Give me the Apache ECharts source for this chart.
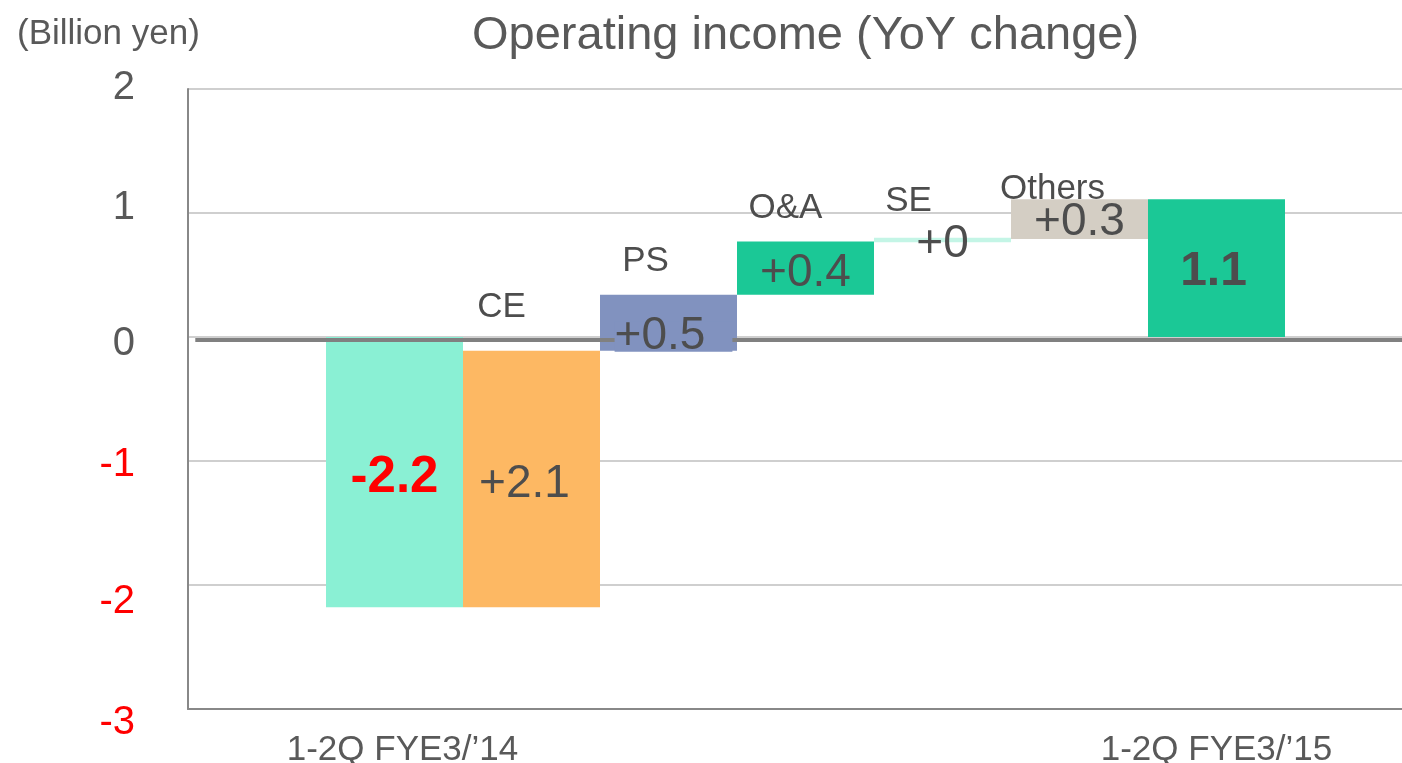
<!DOCTYPE html>
<html>
<head>
<meta charset="utf-8">
<title>Operating income (YoY change)</title>
<script src="https://cdn.jsdelivr.net/npm/echarts@6/dist/echarts.min.js"></script>
<style>
  html, body { margin: 0; padding: 0; background: #fff; }
  #chart { width: 1402px; height: 763px; }
</style>
</head>
<body>
<div id="chart"></div>
<script>
// 7 steps of the bridge, left to right
const categories = ['1-2Q FYE3/\u201914', 'CE', 'PS', 'O&A', 'SE', 'Others', '1-2Q FYE3/\u201915'];
// bottom and top of every floating bar (billion yen)
const barStart = [-2.18, -2.18, -0.11, 0.34, 0.765, 0.79, 0];
const barEnd = [0, -0.11, 0.34, 0.77, 0.80, 1.11, 1.11];
// text written inside the bars
const changeLabels = ['-2.2', '+2.1', '+0.5', '+0.4', '+0', '+0.3', '1.1'];
// y axis range
const yMin = -3;
const yMax = 2;

const FONT = '"Liberation Sans", Arial, Helvetica, sans-serif';
const TEXT_GRAY = '#595959';
const barColors = ['#8af0d4', '#fdb863', '#8192bf', '#1bc896', '#c4f5e6', '#d4cec4', '#1bc896'];
// small pixel tweaks for the text, like the hand placed boxes of the slide
const valueShift = [[0, 6], [-7, 5], [5, 14], [0, 5], [0, 4], [0, 3], [-3, 4]];
const nameShift = [null, [-30, -43], [-23, -33], [-20, -33], [-34, -36], [-27, -10], null];
// the PS label box is filled, so it hides the zero line
const boxedLabel = [false, false, true, false, false, false, false];
const valueFont = [
  { size: 51, weight: 'bold', color: '#ff0000' },
  { size: 46, weight: 'normal', color: '#4d4d4d' },
  { size: 46, weight: 'normal', color: '#4d4d4d' },
  { size: 46, weight: 'normal', color: '#4d4d4d' },
  { size: 46, weight: 'normal', color: '#4d4d4d' },
  { size: 46, weight: 'normal', color: '#4d4d4d' },
  { size: 48, weight: 'bold', color: '#4d4d4d' }
];
// y tick labels are not quite on their grid lines in the original
const tickShift = { '-3': 14, '-2': 17, '-1': 4, '0': 7, '1': -5, '2': -1 };

const tickRich = {};
Object.keys(tickShift).forEach(function (k) {
  const s = tickShift[k];
  tickRich['t' + (Number(k) + 3)] = {
    fontSize: 40,
    fontFamily: FONT,
    color: Number(k) < 0 ? '#ff0000' : TEXT_GRAY,
    padding: s >= 0 ? [2 * s, 0, 0, 0] : [0, 0, -2 * s, 0]
  };
});

const chart = echarts.init(document.getElementById('chart'));

const barData = categories.map(function (c, i) { return [i, barStart[i], barEnd[i]]; });

const barGeom = function (api) {
  const top = api.coord([api.value(0), api.value(2)]);
  const bottom = api.coord([api.value(0), api.value(1)]);
  const w = api.size([1, 0])[0];
  return { cx: top[0], top: top[1], bottom: bottom[1], w: w };
};

const renderBar = function (params, api) {
  const i = params.dataIndex;
  const g = barGeom(api);
  return {
    type: 'rect',
    shape: { x: g.cx - g.w / 2, y: g.top, width: g.w, height: g.bottom - g.top },
    style: { fill: barColors[i] }
  };
};

const renderLabel = function (params, api) {
  const i = params.dataIndex;
  const g = barGeom(api);
  const valueStyle = {
    text: changeLabels[i],
    fill: valueFont[i].color,
    fontSize: valueFont[i].size,
    fontWeight: valueFont[i].weight,
    fontFamily: FONT,
    align: 'center',
    verticalAlign: 'middle'
  };
  if (boxedLabel[i]) {
    valueStyle.backgroundColor = barColors[i];
    valueStyle.lineHeight = 30;
    valueStyle.padding = [0, 27, 0, 0];
  }
  const children = [{
    type: 'text',
    x: g.cx + valueShift[i][0],
    y: (g.top + g.bottom) / 2 + valueShift[i][1],
    style: valueStyle
  }];
  if (nameShift[i]) {
    children.push({
      type: 'text',
      x: g.cx + nameShift[i][0],
      y: g.top + nameShift[i][1],
      style: {
        text: categories[i],
        fill: '#4d4d4d',
        fontSize: 35,
        fontFamily: FONT,
        align: 'center',
        verticalAlign: 'middle'
      }
    });
  }
  return { type: 'group', children: children };
};

const option = {
  animation: false,
  title: [
    {
      text: 'Operating income (YoY change)',
      left: 467,
      top: 8,
      textStyle: { fontSize: 47, fontWeight: 'normal', color: TEXT_GRAY, fontFamily: FONT }
    },
    {
      text: '(Billion yen)',
      left: 12,
      top: 12,
      textStyle: { fontSize: 35, fontWeight: 'normal', color: TEXT_GRAY, fontFamily: FONT }
    }
  ],
  grid: [
    // frame, grid lines and y labels
    { left: 188, right: 0, top: 89, bottom: 54, outerBoundsMode: 'none' },
    // the bars sit in their own band, 137px per step
    { left: 326, right: 117, top: 89, bottom: 54, outerBoundsMode: 'none' }
  ],
  xAxis: [
    {
      gridIndex: 0,
      type: 'value',
      min: 0,
      max: 1,
      axisLine: { show: true, onZero: false, lineStyle: { color: '#888888', width: 2 } },
      axisTick: { show: false },
      axisLabel: { show: false },
      splitLine: { show: false }
    },
    {
      gridIndex: 1,
      type: 'category',
      data: categories,
      axisLine: { show: false, onZero: false },
      axisTick: { show: false },
      axisLabel: {
        interval: function (index) { return index === 0 || index === categories.length - 1; },
        formatter: function (value, index) {
          return index === 0 ? '{first|' + value + '}' : '{last|' + value + '}';
        },
        rich: {
          first: { fontSize: 35, fontFamily: FONT, color: TEXT_GRAY, padding: [0, 0, 0, 16] },
          last: { fontSize: 35, fontFamily: FONT, color: TEXT_GRAY }
        },
        margin: 24
      },
      splitLine: { show: false }
    }
  ],
  yAxis: [
    {
      gridIndex: 0,
      type: 'value',
      min: yMin,
      max: yMax,
      interval: 1,
      axisLine: { show: true, lineStyle: { color: '#888888', width: 2 } },
      axisTick: { show: false },
      axisLabel: {
        margin: 53,
        formatter: function (v) { return '{t' + (v + 3) + '|' + v + '}'; },
        rich: tickRich
      },
      splitLine: { show: true, lineStyle: { color: '#bfbfbf', width: 1.5 } }
    },
    {
      gridIndex: 1,
      type: 'value',
      min: yMin,
      max: yMax,
      show: false
    }
  ],
  series: [
    {
      type: 'custom',
      name: 'bars',
      xAxisIndex: 1,
      yAxisIndex: 1,
      z: 2,
      renderItem: renderBar,
      encode: { x: 0, y: [1, 2] },
      data: barData
    },
    {
      // carries only the thick zero line, drawn over the bars (sits a hair under 0 in the slide)
      type: 'line',
      xAxisIndex: 0,
      yAxisIndex: 0,
      data: [],
      z: 3,
      markLine: {
        silent: true,
        z: 3,
        symbol: 'none',
        label: { show: false },
        lineStyle: { color: '#808080', width: 4, type: 'solid' },
        data: [[{ coord: [0.006, -0.02] }, { coord: [1, -0.02] }]]
      }
    },
    {
      type: 'custom',
      name: 'labels',
      xAxisIndex: 1,
      yAxisIndex: 1,
      z: 6,
      renderItem: renderLabel,
      encode: { x: 0, y: [1, 2] },
      data: barData
    }
  ]
};

chart.setOption(option);
window.addEventListener('resize', function () { chart.resize(); });
</script>
</body>
</html>
